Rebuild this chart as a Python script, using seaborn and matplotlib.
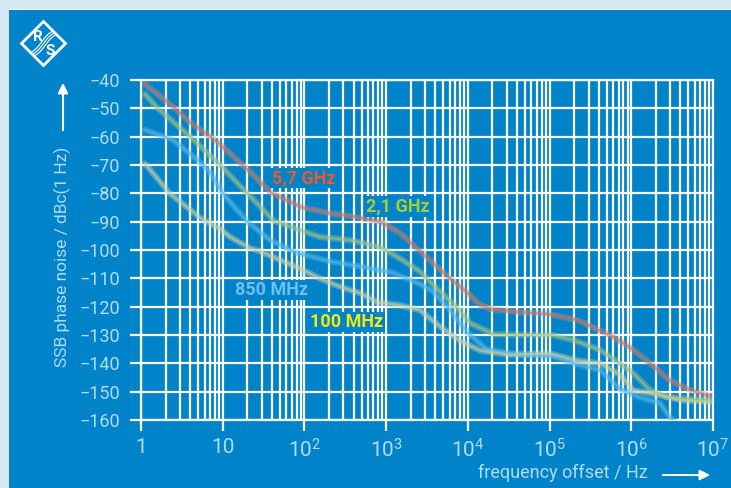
import numpy as np
import pandas as pd
import matplotlib
matplotlib.use("Agg")
import matplotlib.pyplot as plt
import seaborn as sns
from matplotlib.patches import Polygon, FancyArrowPatch, Rectangle
from matplotlib.ticker import FixedLocator, FuncFormatter, LogLocator, NullFormatter

# ---------------- data ----------------
f_57 = [1.12, 1.6, 2.6, 4.0, 7.1, 10, 18.6, 40, 95, 204, 363, 851, 1479, 2399, 3715,
        6026, 9772, 14125, 19953, 43652, 93325, 218776, 416869, 549541, 977237,
        1698244, 2951209, 5248075, 9120108]
L_57 = [-41.5, -45, -50, -55, -60, -63.5, -70.7, -80, -85, -87, -88, -90, -94, -99.5,
        -104.5, -110, -115, -119.4, -121, -122, -122.5, -124.7, -128.5, -130, -134.5,
        -140, -146, -149.4, -151.5]

f_21 = [1.12, 1.6, 4.0, 9.3, 20, 41.7, 89, 155, 363, 851, 1479, 2570, 3981, 6607,
        10715, 20417, 50119, 109648, 194984, 416869, 724436, 1047129, 1698244,
        2754229, 9120108]
L_21 = [-45, -50, -60, -70, -80, -89.6, -93, -95.4, -96.5, -99, -103, -107.5, -113,
        -119, -125.8, -129.7, -130, -130, -131.8, -135.3, -140, -143.4, -149.4, -152,
        -153]

f_850 = [1.12, 2.45, 4.9, 7.1, 10, 20, 38, 81, 204, 525, 1202, 2570, 3715, 6026,
         9772, 16982, 43652, 109648, 194984, 416869, 724436, 1258925, 2238721,
         2951209, 3981072]
L_850 = [-57.6, -61.2, -68.2, -72.8, -80, -90, -96.5, -101, -104, -106, -108, -112,
         -114.5, -121, -129, -135, -137, -137.5, -140, -142.4, -149, -152, -154, -159,
         -163]

f_100 = [1.12, 2.24, 5.75, 9.3, 12.3, 21.4, 28.8, 61.7, 95, 170, 275, 479, 794, 1479,
         2570, 4571, 7943, 14125, 31623, 100000, 218776, 416869, 724436, 1047129,
         2238721, 3981072, 9120108]
L_100 = [-69.5, -80, -89.4, -92.5, -95.4, -99.3, -100.5, -104.6, -107, -110.6, -113,
         -115.2, -118.5, -119.5, -121.2, -127, -132, -135.5, -137, -136.5, -139, -140,
         -144, -149.4, -151.2, -153, -153.7]

series_names = ["5,7 GHz", "2,1 GHz", "850 MHz", "100 MHz"]
label_f = [40, 568, 14.1, 117]
label_L = [-74.6, -84.5, -114.1, -125.4]

x_tick_labels = ["1", "10", "$10^{2}$", "$10^{3}$", "$10^{4}$", "$10^{5}$", "$10^{6}$", "$10^{7}$"]
y_ticks = [-40, -50, -60, -70, -80, -90, -100, -110, -120, -130, -140, -150, -160]

# ---------------- styling ----------------
BLUE = "#0083c8"
LIGHT = "#b0dcf4"
FRAME = "#d5e7f3"
W, H = 731, 488

sns.set_theme(style="white")
FONT = ["Roboto", "DejaVu Sans"]
plt.rcParams["font.family"] = FONT
plt.rcParams["mathtext.fontset"] = "custom"
plt.rcParams["mathtext.rm"] = "Roboto"
plt.rcParams["mathtext.it"] = "Roboto"
plt.rcParams["axes.unicode_minus"] = True

fig = plt.figure(figsize=(W / 100, H / 100), dpi=100, facecolor=FRAME)


def P(x, y):
    return (x / W, 1 - y / H)


# blue panel
fig.patches.append(Rectangle(P(9, H), 1, (H - 10) / H, transform=fig.transFigure,
                             facecolor=BLUE, edgecolor="none", zorder=-5))
fig.patches.append(Rectangle(P(9, 10), 1, 1.5 / H, transform=fig.transFigure,
                             facecolor="white", edgecolor="none", zorder=-5))

ax = fig.add_axes([141 / W, 1 - 420 / H, (713 - 141) / W, (420 - 80) / H])
ax.set_zorder(2)
ax.set_facecolor(BLUE)

frames = []
for name, fs, Ls in [("5,7 GHz", f_57, L_57), ("2,1 GHz", f_21, L_21),
                     ("850 MHz", f_850, L_850), ("100 MHz", f_100, L_100)]:
    frames.append(pd.DataFrame({"f": fs, "L": Ls, "series": name}))
df = pd.concat(frames, ignore_index=True)

halo = {"5,7 GHz": "#b08a8c", "2,1 GHz": "#94bca6", "850 MHz": "#5aaede", "100 MHz": "#b4c4c4"}
core = {"5,7 GHz": "#d8704e", "2,1 GHz": "#a4c860", "850 MHz": "#50bcee", "100 MHz": "#d6d680"}

sns.lineplot(data=df, x="f", y="L", hue="series", palette=halo, hue_order=series_names,
             estimator=None, sort=False, lw=4.5, alpha=0.45, legend=False, ax=ax, zorder=3)
sns.lineplot(data=df, x="f", y="L", hue="series", palette=core, hue_order=series_names,
             estimator=None, sort=False, lw=1.8, alpha=0.55, legend=False, ax=ax, zorder=4)

ax.set_xscale("log")
ax.set_xlim(1, 1e7)
ax.set_ylim(-160, -40)

ax.xaxis.set_major_locator(FixedLocator([10 ** k for k in range(8)]))
ax.xaxis.set_major_formatter(FuncFormatter(lambda v, p: x_tick_labels[int(round(np.log10(v)))]))
ax.xaxis.set_minor_locator(LogLocator(base=10, subs=np.arange(2, 10), numticks=100))
ax.xaxis.set_minor_formatter(NullFormatter())
ax.set_yticks(y_ticks)
ax.set_yticklabels([f"\u2212{abs(v)}" for v in y_ticks])

ax.grid(which="both", axis="x", color="white", lw=1.6, zorder=1)
ax.grid(which="major", axis="y", color="white", lw=1.6, zorder=1)
ax.set_axisbelow(True)
for s in ax.spines.values():
    s.set_color("white")
    s.set_linewidth(1.6)

ax.tick_params(axis="y", which="major", direction="out", length=8, width=1.6, color="white",
               labelcolor=LIGHT, labelsize=13, pad=7, left=True)
ax.tick_params(axis="x", which="major", direction="out", length=8, width=1.6, color="white",
               labelcolor=LIGHT, labelsize=15, pad=5, bottom=True)
ax.tick_params(axis="x", which="minor", length=0)
ax.set_xlabel("")
ax.set_ylabel("")

# series labels
label_colors = ["#e85a30", "#a6cc3a", "#6ec0ee", "#f2ea10"]
for name, fx, ly, c in zip(series_names, label_f, label_L, label_colors):
    ax.text(fx, ly, name, color=c, fontsize=13, fontweight="bold", ha="left", va="center",
            zorder=6, bbox=dict(facecolor=BLUE, edgecolor="none", pad=1.0))

# axis titles with arrows
fig.text(*P(62, 257), "SSB phase noise / dBc(1 Hz)", rotation=90, color=LIGHT,
         fontsize=12.5, ha="center", va="center")
fig.patches.append(FancyArrowPatch(P(63, 133), P(63, 80),
                   transform=fig.transFigure, arrowstyle="-|>,head_length=6,head_width=3",
                   color="white", lw=1.5, mutation_scale=1))
fig.text(*P(648, 473), "frequency offset / Hz", color=LIGHT, fontsize=13,
         ha="right", va="center")
fig.patches.append(FancyArrowPatch(P(660, 475), P(713, 475),
                   transform=fig.transFigure, arrowstyle="-|>,head_length=6,head_width=3",
                   color="white", lw=1.5, mutation_scale=1))

# R&S logo
cx, cy, r = 43.5, 43.5, 22
diamond = [P(cx, cy - r), P(cx + r, cy), P(cx, cy + r), P(cx - r, cy)]
fig.patches.append(Polygon(diamond, closed=True, transform=fig.transFigure,
                           facecolor="none", edgecolor="white", lw=2))
fig.text(*P(38, 37), "R", color="white", fontsize=11, fontweight="bold",
         ha="center", va="center")
fig.text(*P(50, 51), "S", color="white", fontsize=11, fontweight="bold",
         ha="center", va="center")
t = np.linspace(0, 1, 30)
for off in (-2.5, 0, 2.5):
    xs = 33 + 21 * t + off * 0.7
    ys = 54 - 21 * t + off * 0.7 + 1.2 * np.sin(t * 2 * np.pi)
    fig.lines.append(plt.Line2D(xs / W, 1 - ys / H, transform=fig.transFigure,
                                color="white", lw=0.8))

fig.savefig("out.png", dpi=100, facecolor=FRAME)
